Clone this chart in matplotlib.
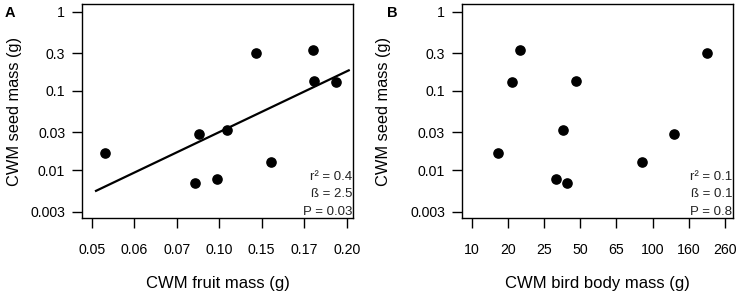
import matplotlib
matplotlib.use("Agg")
import matplotlib.pyplot as plt

plt.rcParams['font.family'] = ['Liberation Sans', 'DejaVu Sans']

# Panel A: CWM fruit mass (axis labelled at equally spaced ticks)
fruit_ticks = ["0.05", "0.06", "0.07", "0.10", "0.15", "0.17", "0.20"]
fruit_pos = [0.30, 2.44, 2.53, 2.95, 3.18, 3.87, 4.21, 5.21, 5.23, 5.75]
seed_a = [0.0165, 0.0069, 0.0284, 0.0078, 0.0322, 0.304, 0.0127, 0.329, 0.132, 0.130]
fit_x = [0.10, 6.05]
fit_y = [0.0055, 0.182]
stats_a = ["r² = 0.4", "ß = 2.5", "P = 0.03"]

# Panel B: CWM bird body mass
bird_ticks = ["10", "20", "25", "50", "65", "100", "160", "260"]
bird_pos = [0.71, 1.12, 1.32, 2.34, 2.52, 2.62, 2.89, 4.70, 5.58, 6.49]
seed_b = [0.0165, 0.130, 0.329, 0.0078, 0.0322, 0.0069, 0.132, 0.0127, 0.0284, 0.304]
stats_b = ["r² = 0.1", "ß = 0.1", "P = 0.8"]

y_ticks = [1, 0.3, 0.1, 0.03, 0.01, 0.003]
y_labels = ["1", "0.3", "0.1", "0.03", "0.01", "0.003"]

fig = plt.figure(figsize=(7.43, 3.0), dpi=100)
axA = fig.add_axes([82/743, 82/300, (353-82)/743, 214/300])
axB = fig.add_axes([461.7/743, 82/300, (733.3-461.7)/743, 214/300])


def style(ax, ticks, xlabel, xlim, stats, letter, ylab_x, letter_x):
    ax.set_yscale('log')
    ax.set_ylim(0.0025, 1.25)
    ax.set_xlim(*xlim)
    ax.set_yticks(y_ticks)
    ax.set_yticklabels(y_labels)
    ax.minorticks_off()
    ax.set_xticks(range(len(ticks)))
    ax.set_xticklabels(ticks)
    ax.tick_params(axis='both', direction='out', length=7, width=1, labelsize=10.2,
                   colors='black')
    ax.tick_params(axis='x', pad=11)
    ax.tick_params(axis='y', pad=5)
    for s in ax.spines.values():
        s.set_linewidth(1.0)
    ax.set_xlabel(xlabel, fontsize=12, labelpad=14)
    ax.set_ylabel("CWM seed mass (g)", fontsize=11.8)
    ax.yaxis.set_label_coords(ylab_x, 0.5)
    for i, t in enumerate(stats):
        ax.text(0.997, 0.19 - i * 0.08, t, transform=ax.transAxes, ha='right',
                va='center', fontsize=9.5, color='#222222')
    ax.text(letter_x, 0.959, letter, transform=ax.transAxes,
            fontsize=10.5, fontweight='bold', ha='left', va='center')


axA.scatter(fruit_pos, seed_a, s=44, color='black', zorder=3)
axA.plot(fit_x, fit_y, color='black', lw=1.6)
style(axA, fruit_ticks, "CWM fruit mass (g)", (-0.23, 6.15), stats_a, 'A', -0.22, -0.284)

axB.scatter(bird_pos, seed_b, s=44, color='black', zorder=3)
style(axB, bird_ticks, "CWM bird body mass (g)", (-0.28, 7.23), stats_b, 'B', -0.262, -0.275)

fig.savefig("out.png", dpi=100)
